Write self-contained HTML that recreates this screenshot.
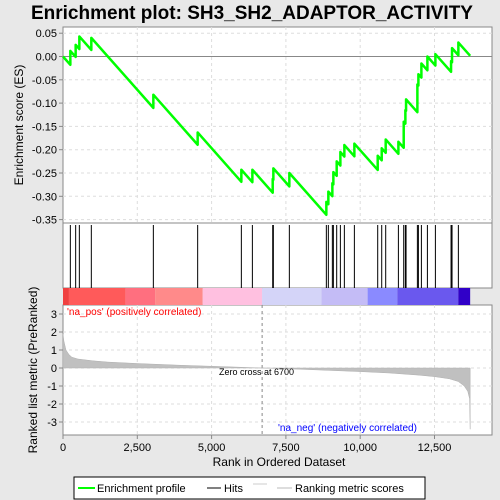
<!DOCTYPE html>
<html><head><meta charset="utf-8"><style>
body{margin:0;background:#e8e8e8;}
svg{display:block;font-family:"Liberation Sans",sans-serif;}
</style></head><body>
<svg id="c" width="500" height="500" xmlns="http://www.w3.org/2000/svg">
<rect x="0" y="0" width="500" height="500" fill="#e8e8e8"/>
<text x="252" y="19" text-anchor="middle" font-size="19" font-weight="bold" fill="#000">Enrichment plot: SH3_SH2_ADAPTOR_ACTIVITY</text>
<rect x="63" y="27" width="429" height="196" fill="#fff" stroke="#888"/>
<rect x="63" y="223" width="429" height="65" fill="#fff" stroke="#888"/>
<rect x="63" y="305" width="429" height="130" fill="#fff" stroke="#888"/>
<g id="grid"></g>
<g id="colorbar"></g>
<g id="hits"></g>
<g id="metric"></g>
<g id="es"></g>
<g id="axes"></g>
<text x="23" y="125" transform="rotate(-90 23 125)" text-anchor="middle" font-size="12">Enrichment score (ES)</text>
<text x="37" y="370" transform="rotate(-90 37 370)" text-anchor="middle" font-size="12">Ranked list metric (PreRanked)</text>
<text x="279" y="466" text-anchor="middle" font-size="12">Rank in Ordered Dataset</text>
<text x="67" y="315" font-size="10" fill="#ff0000">'na_pos' (positively correlated)</text>
<text x="278" y="431" font-size="10" fill="#0000ff">'na_neg' (negatively correlated)</text>
<text x="219" y="375" font-size="9" fill="#000">Zero cross at 6700</text>
<g>
<rect x="74" y="477" width="351" height="22" fill="#fff" stroke="#000"/>
<line x1="78" y1="488" x2="95" y2="488" stroke="#00ff00" stroke-width="2"/>
<text x="97" y="492" font-size="11">Enrichment profile</text>
<line x1="207" y1="488" x2="221" y2="488" stroke="#000" stroke-width="1"/>
<text x="224" y="492" font-size="11">Hits</text>
<line x1="253" y1="484" x2="267" y2="484" stroke="#ccc"/>
<line x1="277" y1="488" x2="292" y2="488" stroke="#bbb"/>
<text x="295" y="492" font-size="11">Ranking metric scores</text>
</g>
</svg>
<script>
const hitRanks=[247,426,550,953,3040,4531,6001,6372,7056,7078,7616,8861,8928,9063,9097,9209,9333,9467,9804,10589,10724,10858,11285,11464,11520,11543,11924,11958,12059,12261,12530,13057,13090,13303];
const esAfterHit=[0.012,0.025,0.043,0.040,-0.082,-0.163,-0.243,-0.243,-0.263,-0.240,-0.250,-0.312,-0.290,-0.272,-0.248,-0.225,-0.205,-0.190,-0.187,-0.213,-0.197,-0.178,-0.183,-0.140,-0.115,-0.092,-0.060,-0.038,-0.015,0.000,0.005,-0.010,0.018,0.030];
const missSlope=7.2e-5;
const totalRanks=13700;
const metricRanks=[0,30,100,200,300,500,1000,1500,2500,4000,5500,6700,8000,10000,11000,12000,12500,13000,13300,13500,13620,13680,13700];
const metricValues=[1.9,1.5,1.0,0.75,0.6,0.5,0.4,0.33,0.25,0.15,0.07,0,-0.07,-0.2,-0.28,-0.4,-0.48,-0.6,-0.75,-1.0,-1.3,-1.7,-3.4];
const esTicks=[0.05,0,-0.05,-0.1,-0.15,-0.2,-0.25,-0.3,-0.35];
const esTickLabels=["0.05","0.00","-0.05","-0.10","-0.15","-0.20","-0.25","-0.30","-0.35"];
const metricTicks=[3,2,1,0,-1,-2,-3];
const xTicks=[0,2500,5000,7500,10000,12500];
const xTickLabels=["0","2,500","5,000","7,500","10,000","12,500"];
const barStops=[0,200,2100,3100,4700,6700,8700,10250,11250,13300,13700];
const barColors=["#f04040","#ff5a5a","#ff6f7f","#ff8a8a","#ffc0e0","#d4d4f8","#c4bcf6","#8a8aff","#6a58ee","#3000c8"];
const NS="http://www.w3.org/2000/svg";
const X=r=>63+r*371.5/12500;
const YE=v=>56.5-v*466;
const YM=v=>368-v*18;
function mk(t,a,p){const e=document.createElementNS(NS,t);for(const k in a)e.setAttribute(k,a[k]);p.appendChild(e);return e;}
const grid=document.getElementById('grid'),axes=document.getElementById('axes');
xTicks.forEach((t,i)=>{
 if(i>0){
 const g1=mk('line',{x1:X(t),x2:X(t),y1:27,y2:223,stroke:'#ddd','stroke-dasharray':'3,3'},grid);
 
 const g2=mk('line',{x1:X(t),x2:X(t),y1:305,y2:435,stroke:'#ddd','stroke-dasharray':'3,3'},grid);
 }
 mk('line',{x1:X(t),x2:X(t),y1:435,y2:439,stroke:'#888'},axes);
 const tx=mk('text',{x:X(t),y:451,'text-anchor':'middle','font-size':11},axes);tx.textContent=xTickLabels[i];
 
});
esTicks.forEach((t,i)=>{
 const g=mk('line',{x1:63,x2:492,y1:YE(t),y2:YE(t),stroke:t===0?'#888':'#ddd','stroke-dasharray':t===0?'':'3,3'},grid);
 
 mk('line',{x1:59,x2:63,y1:YE(t),y2:YE(t),stroke:'#888'},axes);
 const tx=mk('text',{x:57,y:YE(t)+4,'text-anchor':'end','font-size':11},axes);tx.textContent=esTickLabels[i];
 
});
metricTicks.forEach(t=>{
 const g=mk('line',{x1:63,x2:492,y1:YM(t),y2:YM(t),stroke:'#ddd','stroke-dasharray':'3,3'},grid);
 
 mk('line',{x1:59,x2:63,y1:YM(t),y2:YM(t),stroke:'#888'},axes);
 const tx=mk('text',{x:57,y:YM(t)+4,'text-anchor':'end','font-size':11},axes);tx.textContent=String(t);
 
});
const zc=mk('line',{x1:X(6700),x2:X(6700),y1:305,y2:435,stroke:'#888','stroke-dasharray':'3,3'},grid);

const cb=document.getElementById('colorbar');
barColors.forEach((c,i)=>{const r=mk('rect',{x:X(barStops[i]),y:288,width:X(barStops[i+1])-X(barStops[i]),height:17,fill:c},cb);
 });
const hg=document.getElementById('hits');
hitRanks.forEach(r=>{const l=mk('line',{x1:X(r),x2:X(r),y1:225,y2:288,stroke:'#000','stroke-width':1},hg);
 });
// metric area
let d='M'+X(0)+','+YM(0);
metricRanks.forEach((r,i)=>{d+=' L'+X(r)+','+YM(metricValues[i]);});
d+=' L'+X(totalRanks)+','+YM(0)+' Z';
const mp=mk('path',{d:d,fill:'#c0c0c0',stroke:'#b0b0b0','stroke-width':0.5},document.getElementById('metric'));

// ES path
let pts=[[0,0]];let prevR=0,prevV=0;
hitRanks.forEach((r,i)=>{const before=prevV-missSlope*(r-prevR);pts.push([r,before]);pts.push([r,esAfterHit[i]]);prevR=r;prevV=esAfterHit[i];});
pts.push([totalRanks,prevV-missSlope*(totalRanks-prevR)]);
const ep=mk('polyline',{points:pts.map(p=>X(p[0])+','+YE(p[1])).join(' '),fill:'none',stroke:'#00ff00','stroke-width':2.5,'stroke-linejoin':'round'},document.getElementById('es'));

</script>
</body></html>
